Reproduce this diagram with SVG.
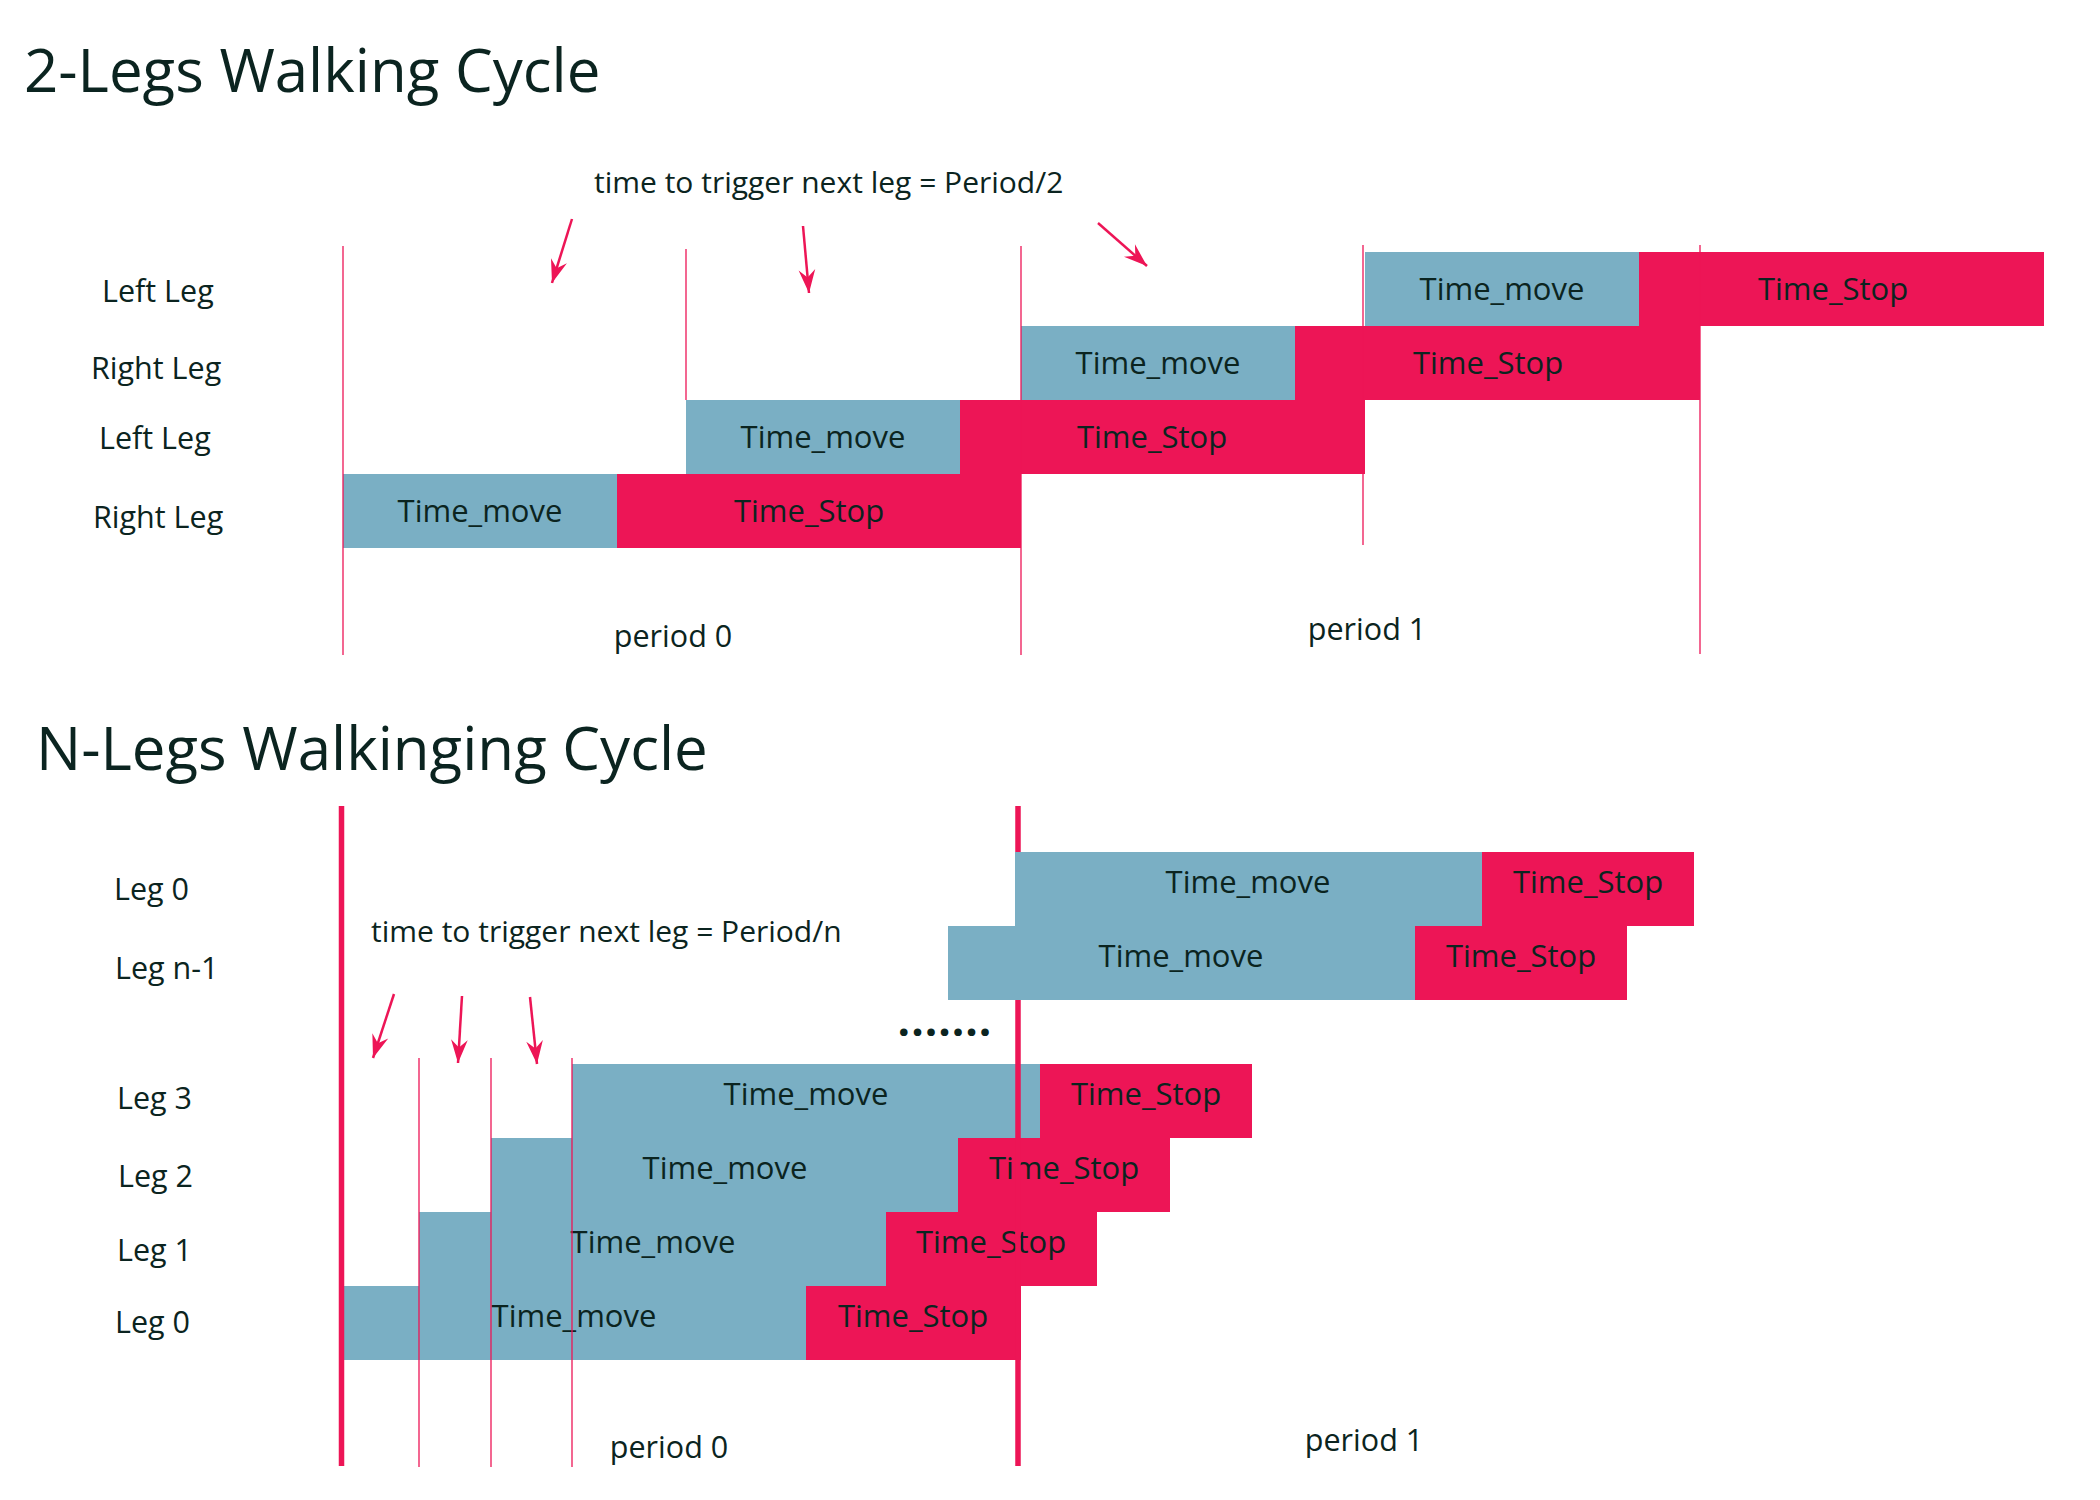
<svg xmlns="http://www.w3.org/2000/svg" width="2100" height="1500" viewBox="0 0 2100 1500">
<style>
.bg{fill:#ffffff}
.mv{fill:#7AAFC4}
.st{fill:#ED1556}
.t{font-family:"Open Sans","Noto Sans","DejaVu Sans",sans-serif;fill:#0b2420}
.bt{font-size:31px;text-anchor:middle}
.lb{font-size:30.5px}
.tr{font-size:30px}
.title{font-size:60px}
.thin{stroke:#ED1556;stroke-width:1.3;fill:none}
.thick{stroke:#ED1556;stroke-width:5.5;fill:none}
.arr{stroke:#ED1556;stroke-width:2.5;fill:none;marker-end:url(#ah)}
</style>
<defs>
<marker id="ah" markerUnits="userSpaceOnUse" markerWidth="30" markerHeight="20" viewBox="-22 -9 24 18" refX="0" refY="0" orient="auto">
<path d="M0,0 L-21,-7.5 L-14,0 L-21,7.5 Z" fill="#ED1556"/>
</marker>
</defs>
<rect class="bg" x="0" y="0" width="2100" height="1500"/>

<g id="titles">
<text class="t title" x="24" y="92">2-Legs Walking Cycle</text>
<text class="t title" x="36" y="770">N-Legs Walkinging Cycle</text>
</g>

<g id="labels-top">
<text class="t lb" x="102" y="302">Left Leg</text>
<text class="t lb" x="91" y="379">Right Leg</text>
<text class="t lb" x="99" y="449">Left Leg</text>
<text class="t lb" x="93" y="528">Right Leg</text>
<text class="t tr" x="594" y="193">time to trigger next leg = Period/2</text>
<text class="t lb" x="673" y="647" text-anchor="middle">period 0</text>
<text class="t lb" x="1367" y="640" text-anchor="middle">period 1</text>
</g>

<g id="labels-bottom">
<text class="t lb" x="114" y="900">Leg 0</text>
<text class="t lb" x="115" y="979">Leg n-1</text>
<text class="t lb" x="117" y="1109">Leg 3</text>
<text class="t lb" x="118" y="1187">Leg 2</text>
<text class="t lb" x="117" y="1261">Leg 1</text>
<text class="t lb" x="115" y="1333">Leg 0</text>
<text class="t tr" x="371" y="942">time to trigger next leg = Period/n</text>
<text class="t" x="945" y="1036" text-anchor="middle" font-size="44" font-weight="bold" letter-spacing="1">.......</text>
<text class="t lb" x="669" y="1458" text-anchor="middle">period 0</text>
<text class="t lb" x="1364" y="1451" text-anchor="middle">period 1</text>
</g>

<g id="top-rightleg-0">
<rect class="mv" x="343" y="474" width="274" height="74"/>
<rect class="st" x="617" y="474" width="404" height="74"/>
<text class="t bt" x="480" y="522">Time_move</text>
<text class="t bt" x="809" y="522">Time_Stop</text>
</g>
<g id="top-leftleg-0">
<rect class="mv" x="686" y="400" width="274" height="74"/>
<rect class="st" x="960" y="400" width="405" height="74"/>
<text class="t bt" x="823" y="448">Time_move</text>
<text class="t bt" x="1152" y="448">Time_Stop</text>
</g>
<g id="top-rightleg-1">
<rect class="mv" x="1021" y="326" width="274" height="74"/>
<rect class="st" x="1295" y="326" width="405" height="74"/>
<text class="t bt" x="1158" y="374">Time_move</text>
<text class="t bt" x="1488" y="374">Time_Stop</text>
</g>
<g id="top-leftleg-1">
<rect class="mv" x="1365" y="252" width="274" height="74"/>
<rect class="st" x="1639" y="252" width="405" height="74"/>
<text class="t bt" x="1502" y="300">Time_move</text>
<text class="t bt" x="1833" y="300">Time_Stop</text>
</g>

<g id="n-leg3">
<rect class="mv" x="572" y="1064" width="468" height="74"/>
<rect class="st" x="1040" y="1064" width="212" height="74"/>
<text class="t bt" x="806" y="1105">Time_move</text>
<text class="t bt" x="1146" y="1105">Time_Stop</text>
</g>
<g id="n-leg2">
<rect class="mv" x="491" y="1138" width="467" height="74"/>
<rect class="st" x="958" y="1138" width="212" height="74"/>
<text class="t bt" x="725" y="1179">Time_move</text>
<text class="t bt" x="1064" y="1179">Time_Stop</text>
</g>
<g id="n-leg1">
<rect class="mv" x="419" y="1212" width="467" height="74"/>
<rect class="st" x="886" y="1212" width="211" height="74"/>
<text class="t bt" x="653" y="1253">Time_move</text>
<text class="t bt" x="991" y="1253">Time_Stop</text>
</g>
<g id="n-leg0">
<rect class="mv" x="343" y="1286" width="463" height="74"/>
<rect class="st" x="806" y="1286" width="215" height="74"/>
<text class="t bt" x="574" y="1327">Time_move</text>
<text class="t bt" x="913" y="1327">Time_Stop</text>
</g>

<g id="connectors">
<line class="thin" x1="343" y1="246" x2="343" y2="655"/>
<line class="thin" x1="686" y1="249" x2="686" y2="400"/>
<line class="thin" x1="1021" y1="246" x2="1021" y2="655"/>
<line class="thin" x1="1363" y1="245" x2="1363" y2="545"/>
<line class="thin" x1="1700" y1="245" x2="1700" y2="654"/>
<line class="arr" x1="572" y1="219" x2="552" y2="283"/>
<line class="arr" x1="803" y1="226" x2="809" y2="293"/>
<line class="arr" x1="1098" y1="223" x2="1147" y2="266"/>
<line class="thick" x1="341.5" y1="806" x2="341.5" y2="1466"/>
<line class="thick" x1="1018" y1="806" x2="1018" y2="1466"/>
<line class="thin" x1="419" y1="1058" x2="419" y2="1467"/>
<line class="thin" x1="491" y1="1058" x2="491" y2="1467"/>
<line class="thin" x1="572" y1="1058" x2="572" y2="1467"/>
<line class="arr" x1="394" y1="994" x2="373" y2="1058"/>
<line class="arr" x1="462" y1="996" x2="458" y2="1063"/>
<line class="arr" x1="530" y1="997" x2="537" y2="1064"/>
</g>

<g id="n-leg0-top">
<rect class="mv" x="1015" y="852" width="467" height="74"/>
<rect class="st" x="1482" y="852" width="212" height="74"/>
<text class="t bt" x="1248" y="893">Time_move</text>
<text class="t bt" x="1588" y="893">Time_Stop</text>
</g>
<g id="n-legn-1">
<rect class="mv" x="948" y="926" width="467" height="74"/>
<rect class="st" x="1415" y="926" width="212" height="74"/>
<text class="t bt" x="1181" y="967">Time_move</text>
<text class="t bt" x="1521" y="967">Time_Stop</text>
</g>
</svg>
